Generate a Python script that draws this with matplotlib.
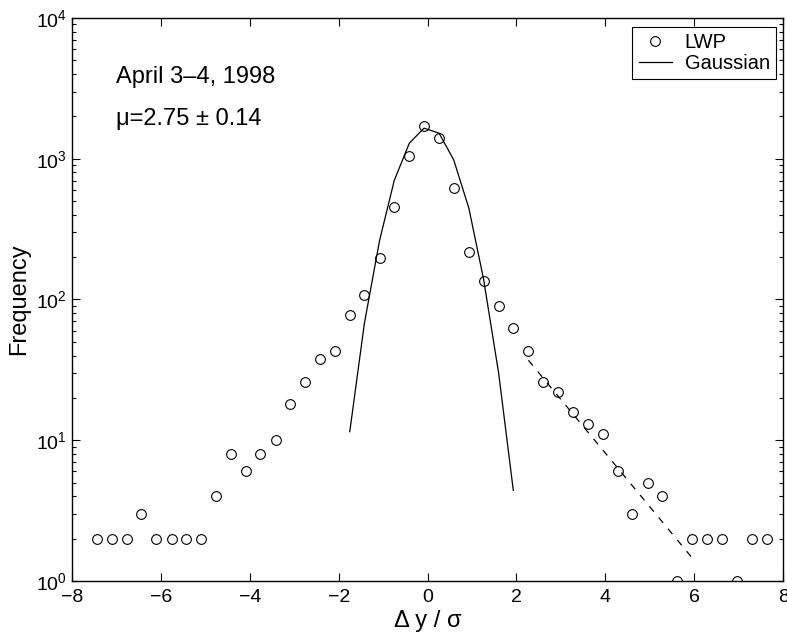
import matplotlib
matplotlib.use("Agg")
import matplotlib.pyplot as plt
from matplotlib.ticker import LogLocator, NullFormatter

plt.rcParams['font.family'] = ['Liberation Sans', 'DejaVu Sans']
plt.rcParams['mathtext.fontset'] = 'custom'
plt.rcParams['mathtext.rm'] = 'Liberation Sans'
plt.rcParams['mathtext.it'] = 'Liberation Sans:italic'
plt.rcParams['lines.scale_dashes'] = False

# histogram bins (LWP increments, normalised)
lwp_x = [-7.44, -7.11, -6.77, -6.44, -6.10, -5.76, -5.43, -5.10, -4.77, -4.43,
         -4.09, -3.76, -3.42, -3.09, -2.76, -2.43, -2.09, -1.75, -1.42, -1.08,
         -0.75, -0.41, -0.08, 0.26, 0.59, 0.93, 1.26, 1.60, 1.93, 2.27,
         2.60, 2.94, 3.27, 3.61, 3.94, 4.28, 4.61, 4.95, 5.28, 5.62,
         5.95, 6.29, 6.62, 6.96, 7.29, 7.63]
lwp_freq = [2, 2, 2, 3, 2, 2, 2, 2, 4, 8,
            6, 8, 10, 18, 26, 38, 43, 78, 107, 198,
            452, 1040, 1718, 1404, 617, 216, 135, 90, 63, 43,
            26, 22, 16, 13, 11, 6, 3, 5, 4, 1,
            2, 2, 2, 1, 2, 2]

# gaussian curve at the central bins
gauss_x = [-1.75, -1.42, -1.08, -0.75, -0.41, -0.08, 0.26, 0.59, 0.93, 1.26, 1.60, 1.93]
gauss_y = [11.5, 68, 262, 700, 1290, 1650, 1520, 980, 445, 140, 30, 4.4]

# exponential tail fit (dashed)
tail_x = [2.27, 5.93]
tail_y = [37, 1.49]

fig = plt.figure(figsize=(7.87, 6.39), dpi=100)
ax = fig.add_axes([0.0915, 0.0908, 0.9035, 0.881])

ax.semilogy(lwp_x, lwp_freq, 'o', mfc='none', mec='black', ms=7, mew=0.8, label='LWP')
ax.semilogy(gauss_x, gauss_y, '-', color='black', lw=0.9, label='Gaussian')
ax.semilogy(tail_x, tail_y, color='black', lw=0.9, linestyle=(0, (5, 5.5)))

ax.set_xlim(-8, 8)
ax.set_ylim(1, 1e4)
ax.set_xticks([-8, -6, -4, -2, 0, 2, 4, 6, 8])
ax.yaxis.set_major_locator(LogLocator(base=10, numticks=10))
ax.yaxis.set_minor_locator(LogLocator(base=10, subs=range(2, 10), numticks=10))
ax.yaxis.set_minor_formatter(NullFormatter())

ax.tick_params(which='both', direction='in', top=True, right=True, labelsize=14, width=0.8)
ax.tick_params(which='major', length=5.5)
ax.tick_params(which='minor', length=3)
ax.tick_params(axis='x', pad=6)
for s in ax.spines.values():
    s.set_linewidth(1.0)

ax.set_xlabel('Δ y / σ', fontsize=17, labelpad=3)
ax.set_ylabel('Frequency', fontsize=17, labelpad=4)

ax.text(0.062, 0.8845, 'April 3–4, 1998', transform=ax.transAxes, fontsize=17, va='baseline')
ax.text(0.062, 0.810, 'μ=2.75 ± 0.14', transform=ax.transAxes, fontsize=17, va='baseline')

leg = ax.legend(loc='upper right', bbox_to_anchor=(776 / 787, 1 - 27 / 639),
                bbox_transform=fig.transFigure, borderaxespad=0,
                numpoints=1, fontsize=14.5, fancybox=False,
                edgecolor='black', framealpha=1,
                handlelength=1.65, handletextpad=0.65, borderpad=0.3, labelspacing=0.1)
leg.get_frame().set_linewidth(0.8)

fig.savefig('out.png', dpi=100)
